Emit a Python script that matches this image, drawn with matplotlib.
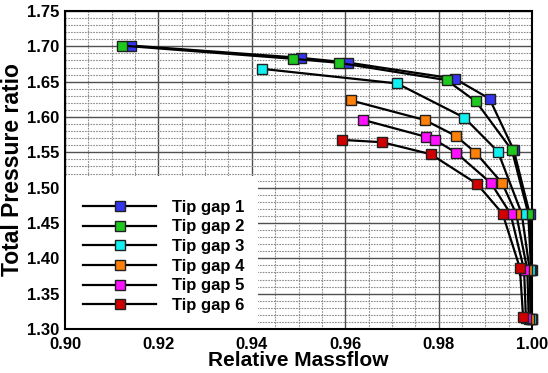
import matplotlib
matplotlib.use("Agg")
import matplotlib.pyplot as plt
from matplotlib.patches import Rectangle
from matplotlib.ticker import MultipleLocator

plt.rcParams['font.family'] = ['Liberation Sans', 'DejaVu Sans']
plt.rcParams['font.weight'] = 'bold'

labels = ["Tip gap 1", "Tip gap 2", "Tip gap 3", "Tip gap 4", "Tip gap 5", "Tip gap 6"]
colors = ["#3535f0", "#1ec81e", "#10f0f0", "#ff8008", "#ff10ff", "#d00000"]

gap1_x = [0.9142, 0.9505, 0.9605, 0.9835, 0.9909, 0.9961, 0.9995, 0.9999, 1.0000]
gap1_y = [1.7011, 1.6837, 1.6771, 1.6541, 1.6259, 1.5530, 1.4632, 1.3838, 1.3140]
gap2_x = [0.9123, 0.9489, 0.9586, 0.9817, 0.9880, 0.9957, 0.9992, 0.9998, 0.9999]
gap2_y = [1.7010, 1.6823, 1.6767, 1.6522, 1.6220, 1.5530, 1.4632, 1.3838, 1.3140]
gap3_x = [0.9421, 0.9711, 0.9855, 0.9927, 0.9978, 0.9995, 0.9997]
gap3_y = [1.6682, 1.6475, 1.5991, 1.5511, 1.4632, 1.3838, 1.3140]
gap4_x = [0.9612, 0.9770, 0.9837, 0.9879, 0.9936, 0.9966, 0.9990, 0.9993]
gap4_y = [1.6235, 1.5958, 1.5732, 1.5497, 1.5065, 1.4632, 1.3838, 1.3140]
gap5_x = [0.9639, 0.9774, 0.9792, 0.9837, 0.9912, 0.9954, 0.9983, 0.9987]
gap5_y = [1.5958, 1.5718, 1.5676, 1.5497, 1.5065, 1.4632, 1.3838, 1.3150]
gap6_x = [0.9594, 0.9679, 0.9783, 0.9882, 0.9937, 0.9974, 0.9981]
gap6_y = [1.5676, 1.5643, 1.5474, 1.5055, 1.4632, 1.3866, 1.3170]

series_x = [gap1_x, gap2_x, gap3_x, gap4_x, gap5_x, gap6_x]
series_y = [gap1_y, gap2_y, gap3_y, gap4_y, gap5_y, gap6_y]

fig = plt.figure(figsize=(5.48, 3.73), dpi=100)
ax = fig.add_axes([65/548, 1 - 329/373, (532-65)/548, (329-11)/373])

ax.set_xlim(0.90, 1.00)
ax.set_ylim(1.30, 1.75)
ax.xaxis.set_major_locator(MultipleLocator(0.02))
ax.xaxis.set_minor_locator(MultipleLocator(0.005))
ax.yaxis.set_major_locator(MultipleLocator(0.05))
ax.yaxis.set_minor_locator(MultipleLocator(0.01))
ax.set_axisbelow(True)
ax.grid(which='major', color='#505050', linewidth=1.0, linestyle='-')
ax.grid(which='minor', color='#8c8c8c', linewidth=0.8, linestyle=(0, (1.5, 1.0)))

ax.add_patch(Rectangle((0, 0), (258-65)/467, (329-176)/318, transform=ax.transAxes,
                       facecolor='white', edgecolor='none', zorder=1))

handles = []
for i, (xs, ys, c, lab) in enumerate(zip(series_x, series_y, colors, labels)):
    h, = ax.plot(xs, ys, color='black', linewidth=1.6, marker='s', markersize=7,
                 markerfacecolor=c, markeredgecolor='#202020', markeredgewidth=1.0,
                 label=lab, zorder=3 + 0.01 * i, clip_on=False)
    handles.append(h)

leg = ax.legend(handles=handles, labels=labels, loc='upper left',
                bbox_to_anchor=((82-65)/467 - 0.012, (329-193)/318),
                frameon=False, fontsize=12, handlelength=4.4, handletextpad=0.95,
                labelspacing=0.28, borderaxespad=0)
for t in leg.get_texts():
    t.set_fontweight('bold')

for sp in ax.spines.values():
    sp.set_linewidth(1.5)
    sp.set_color('black')
    sp.set_zorder(2.5)

ax.tick_params(which='both', direction='in', length=0, labelsize=12)
ax.tick_params(axis='x', pad=6)
ax.tick_params(axis='y', pad=4)
ax.set_xticklabels([f"{v:.2f}" for v in ax.get_xticks()], fontweight='bold')
ax.set_yticklabels([f"{v:.2f}" for v in ax.get_yticks()], fontweight='bold')
ax.set_xlim(0.90, 1.00)
ax.set_ylim(1.30, 1.75)

ax.set_xlabel("Relative Massflow", fontsize=15, fontweight='bold', labelpad=-1)
ax.set_ylabel("Total Pressure ratio", fontsize=16.5, fontweight='bold', labelpad=2)

fig.savefig("out.png", dpi=100)
